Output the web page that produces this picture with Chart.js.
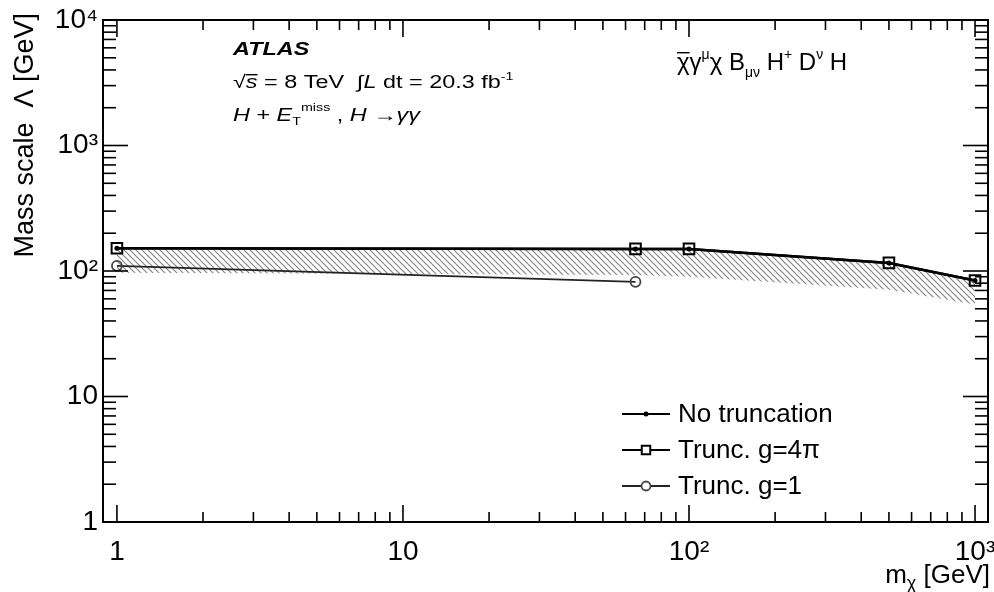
<!DOCTYPE html>
<html>
<head>
<meta charset="utf-8">
<script src="https://cdn.jsdelivr.net/npm/chart.js@4.4.0/dist/chart.umd.min.js"></script>
<style>
  html, body { margin: 0; padding: 0; background: #fff; }
  #wrap { width: 994px; height: 592px; }
</style>
</head>
<body>
<div id="wrap"><canvas id="myChart" width="994" height="592"></canvas></div>
<script>
// masse del candidato DM (GeV) e limiti sulla scala Lambda (GeV)
const massPoints = [1, 65, 100, 500, 1000];
const noTruncation = [152, 150, 150, 116, 84];
const truncG4pi = [152, 150, 150, 116, 84];
const bandLow = [97, 93, 90, 71, 54];
const massPointsG1 = [1, 65];
const truncG1 = [110, 82];

// tacche principali e relative etichette
const xTicks = [1, 10, 100, 1000];
const xTickLabels = ['1', '10', '10²', '10³'];
const yTicks = [1, 10, 100, 1000, 10000];
const yTickLabels = ['1', '10', '10²', '10³', '10⁴'];

const legendLabels = ['No truncation', 'Trunc. g=4\u03c0', 'Trunc. g=1'];

const FONT = 'Liberation Sans, Arial, sans-serif';

const toPoints = (xs, ys) => xs.map((x, i) => ({ x: x, y: ys[i] }));

// retino diagonale per la banda
function makeHatch() {
  let c = document.createElement('canvas');
  c.width = 6;
  c.height = 6;
  let g = c.getContext('2d');
  g.strokeStyle = '#858585';
  g.lineWidth = 1.2;
  g.beginPath();
  g.moveTo(-1, -1); g.lineTo(7, 7);
  g.moveTo(-1, 5); g.lineTo(1, 7);
  g.moveTo(5, -1); g.lineTo(7, 1);
  g.stroke();
  return g.createPattern(c, 'repeat');
}

// testo composto da pezzi (apici, pedici, corsivo)
function drawRich(ctx, x, y, parts, sx) {
  ctx.save();
  ctx.translate(x, y);
  ctx.scale(sx || 1, 1);
  ctx.textAlign = 'left';
  ctx.textBaseline = 'alphabetic';
  let cx = 0;
  parts.forEach(p => {
    ctx.font = p.f;
    let w = ctx.measureText(p.t).width;
    ctx.fillText(p.t, cx, p.dy || 0);
    if (p.over) ctx.fillRect(cx, (p.dy || 0) - p.over, w, 1.4);
    cx += w;
  });
  ctx.restore();
  return cx * (sx || 1);
}

function line(ctx, x1, y1, x2, y2) {
  ctx.beginPath();
  ctx.moveTo(x1, y1);
  ctx.lineTo(x2, y2);
  ctx.stroke();
}

// cornice, tacche interne, testi e legenda
const frameAndText = {
  id: 'frameAndText',
  afterDatasetsDraw(chart) {
    let ctx = chart.ctx;
    let a = chart.chartArea;
    let xs = chart.scales.x;
    let ys = chart.scales.y;
    ctx.save();
    ctx.strokeStyle = '#000';
    ctx.lineWidth = 1.6;
    for (let d = 0; d <= 3; d++) {
      for (let m = 1; m <= 9; m++) {
        let v = m * Math.pow(10, d);
        if (v < xs.min || v > xs.max) continue;
        let px = xs.getPixelForValue(v);
        let len = m === 1 ? 17 : 10;
        line(ctx, px, a.bottom, px, a.bottom - len);
        line(ctx, px, a.top, px, a.top + len);
      }
    }
    for (let d = 0; d <= 4; d++) {
      for (let m = 1; m <= 9; m++) {
        let v = m * Math.pow(10, d);
        if (v < ys.min || v > ys.max) continue;
        let py = ys.getPixelForValue(v);
        let len = m === 1 ? 25 : 13;
        line(ctx, a.left, py, a.left + len, py);
        line(ctx, a.right, py, a.right - len, py);
      }
    }
    ctx.lineWidth = 2;
    ctx.strokeRect(a.left, a.top, a.right - a.left, a.bottom - a.top);

    ctx.fillStyle = '#000';
    // titolo asse y
    ctx.save();
    ctx.translate(33, 13);
    ctx.rotate(-Math.PI / 2);
    ctx.font = '27px ' + FONT;
    ctx.textAlign = 'right';
    ctx.textBaseline = 'alphabetic';
    ctx.fillText('Mass scale  \u039b [GeV]', 0, 0);
    ctx.restore();

    // titolo asse x, allineato a destra
    let xTitle = [
      { t: 'm', f: '26px ' + FONT },
      { t: '\u03c7', f: '18px ' + FONT, dy: 6 },
      { t: ' [GeV]', f: '26px ' + FONT }
    ];
    ctx.save();
    let wx = 0;
    xTitle.forEach(p => { ctx.font = p.f; wx += ctx.measureText(p.t).width; });
    ctx.restore();
    drawRich(ctx, 990 - wx, 583, xTitle);

    // etichette ATLAS
    const N = '18px ' + FONT;
    const I = 'italic 18px ' + FONT;
    const S = '11px ' + FONT;
    drawRich(ctx, 233, 55, [{ t: 'ATLAS', f: 'italic bold 18px ' + FONT }], 1.3);
    drawRich(ctx, 233, 88, [
      { t: '\u221a', f: N },
      { t: 's', f: I, over: 14 },
      { t: ' = 8 TeV  ', f: N },
      { t: '\u222b', f: N },
      { t: 'L', f: I },
      { t: ' dt = 20.3 fb', f: N },
      { t: '-1', f: S, dy: -8 }
    ], 1.3);
    drawRich(ctx, 233, 121, [
      { t: 'H', f: I },
      { t: ' + ', f: N },
      { t: 'E', f: I },
      { t: 'T', f: S, dy: 4 },
      { t: 'miss', f: S, dy: -10 },
      { t: ' , ', f: N },
      { t: 'H', f: I },
      { t: ' \u2192', f: N },
      { t: '\u03b3\u03b3', f: I }
    ], 1.3);

    // operatore
    const F = '24px ' + FONT;
    const FS = '14px ' + FONT;
    drawRich(ctx, 677, 70, [
      { t: '\u03c7', f: F, over: 18 },
      { t: '\u03b3', f: F },
      { t: '\u03bc', f: FS, dy: -11 },
      { t: '\u03c7', f: F },
      { t: ' B', f: F },
      { t: '\u03bc\u03bd', f: FS, dy: 7 },
      { t: ' H', f: F },
      { t: '+', f: FS, dy: -11 },
      { t: ' D', f: F },
      { t: '\u03bd', f: FS, dy: -11 },
      { t: ' H', f: F }
    ]);

    // legenda
    let rows = [414, 450, 486];
    for (let i = 0; i < 3; i++) {
      let ds = chart.data.datasets[i];
      let y = rows[i];
      ctx.strokeStyle = ds.borderColor;
      ctx.lineWidth = 2;
      line(ctx, 622, y, 670, y);
      ctx.fillStyle = ds.legendFill;
      ctx.strokeStyle = ds.pointBorderColor;
      ctx.lineWidth = ds.pointBorderWidth;
      Chart.helpers.drawPoint(ctx, {
        pointStyle: ds.pointStyle,
        radius: ds.legendRadius,
        borderWidth: ds.pointBorderWidth
      }, 646, y);
      ctx.fillStyle = '#000';
      ctx.font = '26px ' + FONT;
      ctx.textAlign = 'left';
      ctx.textBaseline = 'middle';
      ctx.fillText(legendLabels[i], 678, y + 1);
    }
    ctx.restore();
  }
};

let ctx = document.getElementById('myChart').getContext('2d');
let myChart = new Chart(ctx, {
  type: 'line',
  data: {
    datasets: [
      {
        label: legendLabels[0],
        data: toPoints(massPoints, noTruncation),
        borderColor: '#000',
        borderWidth: 2.5,
        pointStyle: 'circle',
        pointRadius: 2.5,
        legendRadius: 2.5,
        legendFill: '#000',
        pointBackgroundColor: '#000',
        pointBorderColor: '#000',
        pointBorderWidth: 0,
        fill: false,
        order: 1
      },
      {
        label: legendLabels[1],
        data: toPoints(massPoints, truncG4pi),
        borderColor: '#000',
        borderWidth: 2.5,
        pointStyle: 'rect',
        pointRadius: 7.5,
        legendRadius: 6,
        legendFill: '#fff',
        pointBackgroundColor: 'rgba(0,0,0,0)',
        pointBorderColor: '#000',
        pointBorderWidth: 2,
        fill: false,
        order: 0
      },
      {
        label: legendLabels[2],
        data: toPoints(massPointsG1, truncG1),
        borderColor: '#222',
        borderWidth: 1.8,
        pointStyle: 'circle',
        pointRadius: 5,
        legendRadius: 4.5,
        legendFill: '#fff',
        pointBackgroundColor: 'rgba(0,0,0,0)',
        pointBorderColor: '#444',
        pointBorderWidth: 1.8,
        fill: false,
        order: 2
      },
      {
        label: 'band',
        data: toPoints(massPoints, bandLow),
        borderWidth: 0,
        borderColor: 'rgba(0,0,0,0)',
        pointRadius: 0,
        backgroundColor: makeHatch(),
        fill: 0,
        order: 3
      }
    ]
  },
  options: {
    responsive: false,
    animation: false,
    devicePixelRatio: 1,
    layout: { autoPadding: false, padding: { top: 20, right: 6, bottom: 0, left: 0 } },
    plugins: {
      legend: { display: false },
      tooltip: { enabled: false }
    },
    elements: { line: { tension: 0 } },
    scales: {
      x: {
        type: 'logarithmic',
        position: 'bottom',
        min: 0.894,
        max: 1110,
        grid: { display: false, drawTicks: false },
        border: { display: false },
        afterBuildTicks: (axis) => { axis.ticks = xTicks.map(v => ({ value: v })); },
        afterFit: (axis) => { axis.height = 70; axis.paddingLeft = 0; axis.paddingRight = 0; },
        ticks: {
          autoSkip: false,
          maxRotation: 0,
          minRotation: 0,
          padding: 13,
          color: '#000',
          font: { family: FONT, size: 28 },
          callback: (value, index) => xTickLabels[index]
        }
      },
      y: {
        type: 'logarithmic',
        position: 'left',
        min: 1,
        max: 10000,
        grid: { display: false, drawTicks: false },
        border: { display: false },
        afterBuildTicks: (axis) => { axis.ticks = yTicks.map(v => ({ value: v })); },
        afterFit: (axis) => { axis.width = 103; axis.paddingTop = 0; axis.paddingBottom = 0; },
        ticks: {
          autoSkip: false,
          padding: 5,
          color: '#000',
          font: { family: FONT, size: 28 },
          callback: (value, index) => yTickLabels[index]
        }
      }
    }
  },
  plugins: [frameAndText]
});
</script>
</body>
</html>
